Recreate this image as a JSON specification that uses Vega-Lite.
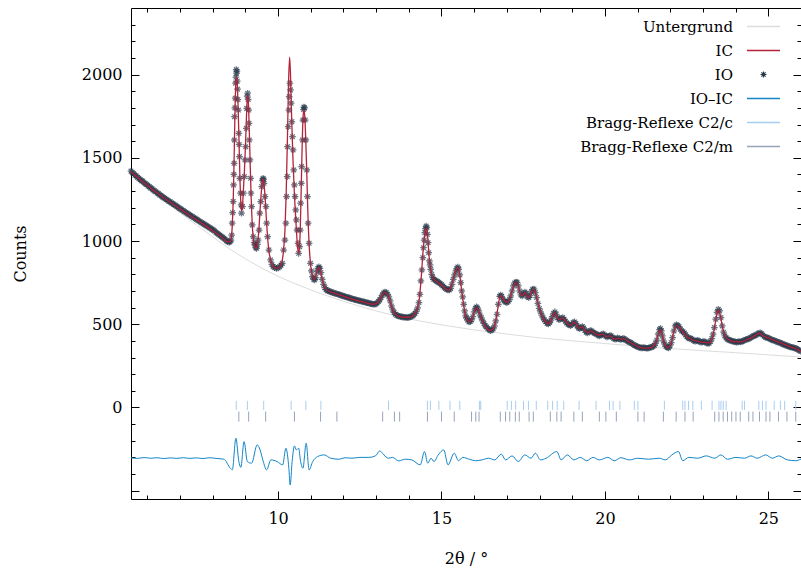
{
  "$schema": "https://vega.github.io/schema/vega-lite/v6.json",
  "width": 670,
  "height": 491,
  "autosize": {"type": "none"},
  "padding": {"left": 131, "top": 8, "right": 0, "bottom": 73},
  "config": {
    "font": "DejaVu Serif",
    "view": {"stroke": "#000000", "strokeWidth": 1},
    "axis": {"domain": false, "grid": false, "tickColor": "#000000", "labelFont": "DejaVu Serif", "titleFont": "DejaVu Serif", "labelFontSize": 16, "titleFontSize": 16, "labelColor": "#000000", "titleColor": "#000000", "titleFontWeight": "normal"}
  },
  "datasets": {
    "obs": [
      {"x":5.50,"o":1420},{"x":5.54,"o":1410},{"x":5.58,"o":1406},{"x":5.62,"o":1395},{"x":5.66,"o":1392},{"x":5.70,"o":1383},{"x":5.74,"o":1375},{"x":5.78,"o":1370},{"x":5.82,"o":1362},{"x":5.86,"o":1360},
      {"x":5.90,"o":1350},{"x":5.94,"o":1344},{"x":5.98,"o":1340},{"x":6.02,"o":1330},{"x":6.06,"o":1328},{"x":6.10,"o":1318},{"x":6.14,"o":1315},{"x":6.18,"o":1306},{"x":6.22,"o":1302},{"x":6.26,"o":1296},
      {"x":6.30,"o":1288},{"x":6.34,"o":1285},{"x":6.38,"o":1276},{"x":6.42,"o":1274},{"x":6.46,"o":1265},{"x":6.50,"o":1262},{"x":6.54,"o":1255},{"x":6.58,"o":1250},{"x":6.62,"o":1245},{"x":6.66,"o":1238},
      {"x":6.70,"o":1236},{"x":6.74,"o":1228},{"x":6.78,"o":1225},{"x":6.82,"o":1218},{"x":6.86,"o":1215},{"x":6.90,"o":1207},{"x":6.94,"o":1204},{"x":6.98,"o":1196},{"x":7.02,"o":1194},{"x":7.06,"o":1186},
      {"x":7.10,"o":1183},{"x":7.14,"o":1176},{"x":7.18,"o":1172},{"x":7.22,"o":1166},{"x":7.26,"o":1161},{"x":7.30,"o":1156},{"x":7.34,"o":1150},{"x":7.38,"o":1147},{"x":7.42,"o":1140},{"x":7.46,"o":1137},
      {"x":7.50,"o":1130},{"x":7.54,"o":1126},{"x":7.58,"o":1120},{"x":7.62,"o":1116},{"x":7.66,"o":1110},{"x":7.70,"o":1106},{"x":7.74,"o":1100},{"x":7.78,"o":1096},{"x":7.82,"o":1090},{"x":7.86,"o":1087},
      {"x":7.90,"o":1080},{"x":7.94,"o":1077},{"x":7.98,"o":1070},{"x":8.02,"o":1066},{"x":8.06,"o":1060},{"x":8.10,"o":1052},{"x":8.14,"o":1046},{"x":8.18,"o":1040},{"x":8.22,"o":1034},{"x":8.26,"o":1028},
      {"x":8.30,"o":1022},{"x":8.34,"o":1016},{"x":8.38,"o":1010},{"x":8.42,"o":1002},{"x":8.46,"o":996},{"x":8.50,"o":993},{"x":8.53,"o":995},{"x":8.56,"o":1005},{"x":8.58,"o":1035},{"x":8.596,"o":1107},
      {"x":8.61,"o":1170},{"x":8.627,"o":1237},{"x":8.637,"o":1337},{"x":8.647,"o":1400},{"x":8.657,"o":1467},{"x":8.662,"o":1607},{"x":8.668,"o":1747},{"x":8.678,"o":1800},{"x":8.688,"o":1858},{"x":8.698,"o":1948},
      {"x":8.71,"o":1985},{"x":8.72,"o":2030},{"x":8.729,"o":2008},{"x":8.74,"o":2020},{"x":8.75,"o":1960},{"x":8.76,"o":1912},{"x":8.77,"o":1850},{"x":8.785,"o":1787},{"x":8.80,"o":1647},{"x":8.81,"o":1580},
      {"x":8.82,"o":1507},{"x":8.83,"o":1377},{"x":8.85,"o":1287},{"x":8.87,"o":1217},{"x":8.88,"o":1167},{"x":8.91,"o":1207},{"x":8.94,"o":1287},{"x":8.97,"o":1387},{"x":8.99,"o":1487},{"x":9.01,"o":1567},
      {"x":9.03,"o":1677},{"x":9.04,"o":1797},{"x":9.055,"o":1870},{"x":9.07,"o":1888},{"x":9.085,"o":1850},{"x":9.10,"o":1787},{"x":9.11,"o":1707},{"x":9.12,"o":1607},{"x":9.14,"o":1487},{"x":9.16,"o":1377},
      {"x":9.17,"o":1287},{"x":9.19,"o":1207},{"x":9.21,"o":1097},{"x":9.24,"o":1026},{"x":9.27,"o":990},{"x":9.29,"o":976},{"x":9.32,"o":960},{"x":9.34,"o":956},{"x":9.37,"o":980},{"x":9.39,"o":1006},
      {"x":9.42,"o":1066},{"x":9.44,"o":1167},{"x":9.47,"o":1237},{"x":9.50,"o":1327},{"x":9.52,"o":1365},{"x":9.54,"o":1377},{"x":9.555,"o":1370},{"x":9.57,"o":1347},{"x":9.60,"o":1267},{"x":9.63,"o":1207},
      {"x":9.65,"o":1107},{"x":9.68,"o":1026},{"x":9.72,"o":946},{"x":9.77,"o":886},{"x":9.81,"o":860},{"x":9.85,"o":846},{"x":9.90,"o":840},{"x":9.95,"o":836},{"x":10.00,"o":838},{"x":10.05,"o":846},
      {"x":10.09,"o":855},{"x":10.13,"o":866},{"x":10.17,"o":946},{"x":10.21,"o":1006},{"x":10.24,"o":1107},{"x":10.26,"o":1267},{"x":10.28,"o":1387},{"x":10.29,"o":1567},{"x":10.31,"o":1687},{"x":10.33,"o":1787},
      {"x":10.34,"o":1867},{"x":10.36,"o":1948},{"x":10.38,"o":1908},{"x":10.40,"o":1828},{"x":10.42,"o":1717},{"x":10.44,"o":1627},{"x":10.46,"o":1547},{"x":10.48,"o":1427},{"x":10.50,"o":1337},{"x":10.52,"o":1267},
      {"x":10.54,"o":1187},{"x":10.56,"o":1127},{"x":10.58,"o":1066},{"x":10.61,"o":986},{"x":10.63,"o":926},{"x":10.66,"o":966},{"x":10.68,"o":1066},{"x":10.69,"o":1227},{"x":10.71,"o":1347},{"x":10.72,"o":1447},
      {"x":10.75,"o":1607},{"x":10.76,"o":1727},{"x":10.78,"o":1790},{"x":10.79,"o":1805},{"x":10.81,"o":1800},{"x":10.83,"o":1727},{"x":10.85,"o":1607},{"x":10.88,"o":1427},{"x":10.90,"o":1267},{"x":10.92,"o":1107},
      {"x":10.95,"o":986},{"x":10.99,"o":866},{"x":11.02,"o":820},{"x":11.05,"o":786},{"x":11.09,"o":770},{"x":11.12,"o":766},{"x":11.15,"o":780},{"x":11.19,"o":816},{"x":11.22,"o":836},{"x":11.25,"o":845},
      {"x":11.28,"o":836},{"x":11.31,"o":810},{"x":11.35,"o":770},{"x":11.39,"o":740},{"x":11.43,"o":720},{"x":11.47,"o":708},{"x":11.51,"o":702},{"x":11.55,"o":700},{"x":11.59,"o":696},{"x":11.63,"o":694},
      {"x":11.67,"o":690},{"x":11.71,"o":688},{"x":11.75,"o":685},{"x":11.79,"o":683},{"x":11.83,"o":680},{"x":11.87,"o":678},{"x":11.91,"o":675},{"x":11.95,"o":672},{"x":11.99,"o":670},{"x":12.03,"o":667},
      {"x":12.07,"o":665},{"x":12.11,"o":662},{"x":12.15,"o":660},{"x":12.19,"o":658},{"x":12.23,"o":655},{"x":12.27,"o":653},{"x":12.31,"o":650},{"x":12.35,"o":648},{"x":12.39,"o":646},{"x":12.43,"o":644},
      {"x":12.47,"o":642},{"x":12.51,"o":640},{"x":12.55,"o":638},{"x":12.59,"o":636},{"x":12.63,"o":634},{"x":12.67,"o":632},{"x":12.71,"o":630},{"x":12.75,"o":628},{"x":12.79,"o":626},{"x":12.83,"o":624},
      {"x":12.87,"o":622},{"x":12.91,"o":620},{"x":12.95,"o":620},{"x":12.99,"o":622},{"x":13.03,"o":628},{"x":13.07,"o":636},{"x":13.11,"o":646},{"x":13.15,"o":660},{"x":13.19,"o":675},{"x":13.23,"o":688},
      {"x":13.27,"o":694},{"x":13.31,"o":690},{"x":13.35,"o":680},{"x":13.39,"o":664},{"x":13.43,"o":640},{"x":13.47,"o":610},{"x":13.51,"o":586},{"x":13.55,"o":570},{"x":13.59,"o":560},{"x":13.63,"o":554},
      {"x":13.67,"o":550},{"x":13.71,"o":548},{"x":13.75,"o":546},{"x":13.79,"o":544},{"x":13.83,"o":543},{"x":13.87,"o":542},{"x":13.91,"o":541},{"x":13.95,"o":540},{"x":13.99,"o":541},{"x":14.03,"o":543},
      {"x":14.07,"o":546},{"x":14.11,"o":550},{"x":14.15,"o":556},{"x":14.19,"o":565},{"x":14.23,"o":578},{"x":14.27,"o":598},{"x":14.31,"o":630},{"x":14.34,"o":680},{"x":14.37,"o":760},{"x":14.40,"o":826},
      {"x":14.43,"o":900},{"x":14.45,"o":960},{"x":14.47,"o":1006},{"x":14.49,"o":1050},{"x":14.51,"o":1075},{"x":14.53,"o":1090},{"x":14.55,"o":1080},{"x":14.57,"o":1040},{"x":14.59,"o":990},{"x":14.61,"o":930},
      {"x":14.63,"o":880},{"x":14.65,"o":856},{"x":14.67,"o":830},{"x":14.70,"o":800},{"x":14.73,"o":780},{"x":14.76,"o":770},{"x":14.80,"o":766},{"x":14.84,"o":760},{"x":14.88,"o":756},{"x":14.92,"o":750},
      {"x":14.96,"o":745},{"x":15.00,"o":738},{"x":15.04,"o":730},{"x":15.08,"o":722},{"x":15.12,"o":715},{"x":15.16,"o":710},{"x":15.20,"o":706},{"x":15.24,"o":706},{"x":15.28,"o":715},{"x":15.32,"o":740},
      {"x":15.36,"o":770},{"x":15.40,"o":796},{"x":15.44,"o":820},{"x":15.47,"o":836},{"x":15.50,"o":844},{"x":15.53,"o":830},{"x":15.56,"o":796},{"x":15.59,"o":750},{"x":15.62,"o":700},{"x":15.65,"o":664},
      {"x":15.68,"o":620},{"x":15.71,"o":580},{"x":15.74,"o":550},{"x":15.77,"o":538},{"x":15.80,"o":525},{"x":15.84,"o":514},{"x":15.88,"o":516},{"x":15.92,"o":526},{"x":15.96,"o":545},{"x":16.00,"o":575},
      {"x":16.04,"o":596},{"x":16.07,"o":604},{"x":16.10,"o":598},{"x":16.14,"o":580},{"x":16.18,"o":555},{"x":16.22,"o":538},{"x":16.26,"o":520},{"x":16.30,"o":505},{"x":16.34,"o":490},{"x":16.38,"o":484},
      {"x":16.42,"o":474},{"x":16.46,"o":466},{"x":16.50,"o":462},{"x":16.54,"o":466},{"x":16.58,"o":472},{"x":16.62,"o":490},{"x":16.66,"o":520},{"x":16.70,"o":560},{"x":16.74,"o":620},{"x":16.78,"o":668},
      {"x":16.81,"o":676},{"x":16.84,"o":668},{"x":16.88,"o":650},{"x":16.92,"o":640},{"x":16.96,"o":634},{"x":17.00,"o":630},{"x":17.04,"o":636},{"x":17.08,"o":648},{"x":17.12,"o":670},{"x":17.16,"o":700},
      {"x":17.20,"o":730},{"x":17.24,"o":748},{"x":17.28,"o":754},{"x":17.31,"o":752},{"x":17.35,"o":730},{"x":17.39,"o":700},{"x":17.43,"o":676},{"x":17.47,"o":670},{"x":17.51,"o":684},{"x":17.55,"o":694},
      {"x":17.59,"o":686},{"x":17.63,"o":665},{"x":17.67,"o":660},{"x":17.71,"o":672},{"x":17.75,"o":695},{"x":17.79,"o":710},{"x":17.83,"o":712},{"x":17.87,"o":690},{"x":17.91,"o":660},{"x":17.95,"o":625},
      {"x":17.99,"o":595},{"x":18.03,"o":575},{"x":18.07,"o":555},{"x":18.11,"o":538},{"x":18.15,"o":526},{"x":18.19,"o":515},{"x":18.23,"o":505},{"x":18.27,"o":502},{"x":18.31,"o":510},{"x":18.35,"o":525},
      {"x":18.39,"o":545},{"x":18.43,"o":565},{"x":18.47,"o":574},{"x":18.51,"o":560},{"x":18.55,"o":540},{"x":18.59,"o":528},{"x":18.63,"o":530},{"x":18.67,"o":536},{"x":18.71,"o":540},{"x":18.75,"o":530},
      {"x":18.79,"o":518},{"x":18.83,"o":508},{"x":18.87,"o":500},{"x":18.91,"o":496},{"x":18.95,"o":492},{"x":18.99,"o":498},{"x":19.03,"o":510},{"x":19.07,"o":514},{"x":19.11,"o":505},{"x":19.15,"o":490},
      {"x":19.19,"o":478},{"x":19.23,"o":474},{"x":19.27,"o":480},{"x":19.31,"o":486},{"x":19.35,"o":478},{"x":19.39,"o":462},{"x":19.43,"o":452},{"x":19.47,"o":448},{"x":19.51,"o":456},{"x":19.55,"o":462},
      {"x":19.59,"o":460},{"x":19.63,"o":452},{"x":19.67,"o":448},{"x":19.71,"o":444},{"x":19.75,"o":440},{"x":19.79,"o":434},{"x":19.83,"o":430},{"x":19.87,"o":434},{"x":19.91,"o":440},{"x":19.95,"o":442},
      {"x":19.99,"o":436},{"x":20.03,"o":428},{"x":20.07,"o":424},{"x":20.11,"o":428},{"x":20.15,"o":432},{"x":20.19,"o":430},{"x":20.23,"o":422},{"x":20.27,"o":414},{"x":20.31,"o":410},{"x":20.35,"o":412},
      {"x":20.39,"o":418},{"x":20.43,"o":414},{"x":20.47,"o":408},{"x":20.51,"o":410},{"x":20.55,"o":415},{"x":20.59,"o":412},{"x":20.63,"o":406},{"x":20.67,"o":402},{"x":20.71,"o":396},{"x":20.75,"o":392},
      {"x":20.79,"o":390},{"x":20.83,"o":384},{"x":20.87,"o":378},{"x":20.91,"o":372},{"x":20.95,"o":370},{"x":20.99,"o":366},{"x":21.03,"o":362},{"x":21.07,"o":360},{"x":21.11,"o":358},{"x":21.15,"o":358},
      {"x":21.19,"o":360},{"x":21.23,"o":358},{"x":21.27,"o":356},{"x":21.31,"o":356},{"x":21.35,"o":358},{"x":21.39,"o":362},{"x":21.43,"o":362},{"x":21.47,"o":366},{"x":21.51,"o":372},{"x":21.55,"o":385},
      {"x":21.59,"o":405},{"x":21.63,"o":440},{"x":21.67,"o":468},{"x":21.70,"o":474},{"x":21.73,"o":460},{"x":21.76,"o":430},{"x":21.79,"o":400},{"x":21.83,"o":380},{"x":21.87,"o":366},{"x":21.91,"o":360},
      {"x":21.95,"o":358},{"x":21.99,"o":370},{"x":22.03,"o":390},{"x":22.07,"o":420},{"x":22.11,"o":460},{"x":22.15,"o":490},{"x":22.19,"o":496},{"x":22.23,"o":494},{"x":22.27,"o":485},{"x":22.31,"o":470},
      {"x":22.35,"o":460},{"x":22.39,"o":455},{"x":22.43,"o":448},{"x":22.47,"o":436},{"x":22.51,"o":425},{"x":22.55,"o":418},{"x":22.59,"o":414},{"x":22.63,"o":416},{"x":22.67,"o":410},{"x":22.71,"o":402},
      {"x":22.75,"o":398},{"x":22.79,"o":400},{"x":22.83,"o":404},{"x":22.87,"o":400},{"x":22.91,"o":394},{"x":22.95,"o":392},{"x":22.99,"o":394},{"x":23.03,"o":396},{"x":23.07,"o":394},{"x":23.11,"o":388},
      {"x":23.15,"o":384},{"x":23.19,"o":386},{"x":23.23,"o":396},{"x":23.27,"o":414},{"x":23.31,"o":440},{"x":23.35,"o":480},{"x":23.39,"o":530},{"x":23.43,"o":572},{"x":23.47,"o":590},{"x":23.51,"o":580},
      {"x":23.55,"o":540},{"x":23.59,"o":490},{"x":23.63,"o":452},{"x":23.67,"o":430},{"x":23.71,"o":418},{"x":23.75,"o":410},{"x":23.79,"o":406},{"x":23.83,"o":404},{"x":23.87,"o":400},{"x":23.91,"o":398},
      {"x":23.95,"o":396},{"x":23.99,"o":394},{"x":24.03,"o":392},{"x":24.07,"o":394},{"x":24.11,"o":396},{"x":24.15,"o":394},{"x":24.19,"o":396},{"x":24.23,"o":400},{"x":24.27,"o":404},{"x":24.31,"o":408},
      {"x":24.35,"o":410},{"x":24.39,"o":412},{"x":24.43,"o":416},{"x":24.47,"o":420},{"x":24.51,"o":426},{"x":24.55,"o":430},{"x":24.59,"o":432},{"x":24.63,"o":436},{"x":24.67,"o":442},{"x":24.71,"o":446},
      {"x":24.75,"o":448},{"x":24.79,"o":444},{"x":24.83,"o":436},{"x":24.87,"o":428},{"x":24.91,"o":422},{"x":24.95,"o":420},{"x":24.99,"o":418},{"x":25.03,"o":414},{"x":25.07,"o":410},{"x":25.11,"o":406},
      {"x":25.15,"o":404},{"x":25.19,"o":402},{"x":25.23,"o":398},{"x":25.27,"o":394},{"x":25.31,"o":392},{"x":25.35,"o":390},{"x":25.39,"o":386},{"x":25.43,"o":382},{"x":25.47,"o":378},{"x":25.51,"o":376},
      {"x":25.55,"o":372},{"x":25.59,"o":370},{"x":25.63,"o":366},{"x":25.67,"o":364},{"x":25.71,"o":362},{"x":25.75,"o":360},{"x":25.79,"o":358},{"x":25.83,"o":356},{"x":25.87,"o":352},{"x":25.91,"o":348},
      {"x":25.95,"o":342},{"x":25.99,"o":338}
    ],
    "calc": [
      {"x":5.5,"c":1416},{"x":6.0,"c":1333},{"x":6.5,"c":1260},{"x":7.0,"c":1193},{"x":7.5,"c":1128},{"x":8.0,"c":1062},{"x":8.3,"c":1020},{"x":8.45,"c":996},{"x":8.53,"c":996},{"x":8.57,"c":1015},
      {"x":8.6,"c":1100},{"x":8.63,"c":1260},{"x":8.66,"c":1550},{"x":8.69,"c":1850},{"x":8.71,"c":1960},{"x":8.73,"c":1985},{"x":8.75,"c":1950},{"x":8.77,"c":1850},{"x":8.8,"c":1640},{"x":8.83,"c":1400},
      {"x":8.86,"c":1230},{"x":8.88,"c":1180},{"x":8.9,"c":1190},{"x":8.93,"c":1270},{"x":8.97,"c":1420},{"x":9.0,"c":1560},{"x":9.03,"c":1730},{"x":9.06,"c":1860},{"x":9.075,"c":1875},{"x":9.09,"c":1840},
      {"x":9.12,"c":1660},{"x":9.15,"c":1440},{"x":9.18,"c":1240},{"x":9.21,"c":1100},{"x":9.25,"c":1000},{"x":9.29,"c":965},{"x":9.33,"c":955},{"x":9.37,"c":985},{"x":9.41,"c":1060},{"x":9.45,"c":1190},
      {"x":9.49,"c":1300},{"x":9.52,"c":1360},{"x":9.545,"c":1372},{"x":9.57,"c":1340},{"x":9.6,"c":1270},{"x":9.64,"c":1140},{"x":9.68,"c":1020},{"x":9.72,"c":940},{"x":9.78,"c":880},{"x":9.85,"c":848},
      {"x":9.95,"c":836},{"x":10.05,"c":845},{"x":10.12,"c":875},{"x":10.17,"c":950},{"x":10.21,"c":1060},{"x":10.25,"c":1300},{"x":10.29,"c":1650},{"x":10.32,"c":1950},{"x":10.355,"c":2105},{"x":10.38,"c":2000},
      {"x":10.41,"c":1780},{"x":10.45,"c":1520},{"x":10.5,"c":1280},{"x":10.55,"c":1100},{"x":10.59,"c":980},{"x":10.625,"c":925},{"x":10.65,"c":950},{"x":10.68,"c":1080},{"x":10.71,"c":1330},{"x":10.74,"c":1600},
      {"x":10.77,"c":1760},{"x":10.795,"c":1785},{"x":10.82,"c":1740},{"x":10.85,"c":1590},{"x":10.88,"c":1400},{"x":10.91,"c":1180},{"x":10.95,"c":980},{"x":11.0,"c":850},{"x":11.05,"c":790},{"x":11.1,"c":770},
      {"x":11.15,"c":785},{"x":11.2,"c":825},{"x":11.25,"c":840},{"x":11.3,"c":815},{"x":11.35,"c":770},{"x":11.42,"c":725},{"x":11.5,"c":705},{"x":11.7,"c":688},{"x":12.0,"c":668},{"x":12.3,"c":650},
      {"x":12.6,"c":634},{"x":12.9,"c":620},{"x":13.0,"c":624},{"x":13.1,"c":645},{"x":13.2,"c":680},{"x":13.27,"c":690},{"x":13.35,"c":678},{"x":13.45,"c":620},{"x":13.55,"c":570},{"x":13.65,"c":550},
      {"x":13.85,"c":542},{"x":14.05,"c":543},{"x":14.15,"c":554},{"x":14.25,"c":590},{"x":14.32,"c":650},{"x":14.38,"c":780},{"x":14.44,"c":950},{"x":14.5,"c":1060},{"x":14.535,"c":1078},{"x":14.57,"c":1040},
      {"x":14.62,"c":910},{"x":14.67,"c":826},{"x":14.75,"c":775},{"x":14.85,"c":758},{"x":15.0,"c":735},{"x":15.2,"c":705},{"x":15.25,"c":708},{"x":15.32,"c":742},{"x":15.4,"c":800},{"x":15.47,"c":836},
      {"x":15.5,"c":840},{"x":15.55,"c":810},{"x":15.6,"c":730},{"x":15.66,"c":640},{"x":15.72,"c":565},{"x":15.8,"c":522},{"x":15.87,"c":515},{"x":15.95,"c":540},{"x":16.03,"c":590},{"x":16.08,"c":600},
      {"x":16.14,"c":580},{"x":16.22,"c":535},{"x":16.32,"c":495},{"x":16.45,"c":465},{"x":16.52,"c":463},{"x":16.6,"c":480},{"x":16.68,"c":540},{"x":16.75,"c":630},{"x":16.8,"c":672},{"x":16.85,"c":665},
      {"x":16.95,"c":635},{"x":17.02,"c":632},{"x":17.1,"c":660},{"x":17.18,"c":715},{"x":17.25,"c":748},{"x":17.29,"c":752},{"x":17.35,"c":728},{"x":17.42,"c":680},{"x":17.48,"c":672},{"x":17.55,"c":690},
      {"x":17.62,"c":668},{"x":17.68,"c":662},{"x":17.76,"c":698},{"x":17.82,"c":708},{"x":17.88,"c":685},{"x":17.96,"c":620},{"x":18.05,"c":565},{"x":18.15,"c":525},{"x":18.25,"c":504},{"x":18.32,"c":512},
      {"x":18.4,"c":550},{"x":18.46,"c":570},{"x":18.53,"c":548},{"x":18.6,"c":528},{"x":18.7,"c":538},{"x":18.78,"c":522},{"x":18.88,"c":500},{"x":18.96,"c":494},{"x":19.05,"c":512},{"x":19.12,"c":502},
      {"x":19.2,"c":476},{"x":19.3,"c":484},{"x":19.4,"c":460},{"x":19.48,"c":450},{"x":19.56,"c":460},{"x":19.66,"c":450},{"x":19.8,"c":434},{"x":19.93,"c":440},{"x":20.05,"c":426},{"x":20.15,"c":430},
      {"x":20.3,"c":410},{"x":20.4,"c":416},{"x":20.5,"c":410},{"x":20.57,"c":413},{"x":20.7,"c":398},{"x":20.85,"c":382},{"x":21.0,"c":366},{"x":21.15,"c":358},{"x":21.3,"c":356},{"x":21.45,"c":364},
      {"x":21.55,"c":385},{"x":21.63,"c":438},{"x":21.7,"c":468},{"x":21.76,"c":428},{"x":21.83,"c":380},{"x":21.93,"c":360},{"x":22.03,"c":388},{"x":22.11,"c":455},{"x":22.19,"c":492},{"x":22.27,"c":482},
      {"x":22.37,"c":458},{"x":22.5,"c":426},{"x":22.6,"c":415},{"x":22.7,"c":404},{"x":22.8,"c":400},{"x":22.95,"c":393},{"x":23.1,"c":390},{"x":23.2,"c":388},{"x":23.28,"c":415},{"x":23.35,"c":475},
      {"x":23.43,"c":565},{"x":23.48,"c":584},{"x":23.53,"c":555},{"x":23.6,"c":480},{"x":23.68,"c":428},{"x":23.8,"c":406},{"x":24.0,"c":394},{"x":24.2,"c":396},{"x":24.4,"c":412},{"x":24.6,"c":432},
      {"x":24.73,"c":446},{"x":24.85,"c":430},{"x":25.0,"c":418},{"x":25.2,"c":402},{"x":25.4,"c":386},{"x":25.6,"c":370},{"x":25.8,"c":357},{"x":26.0,"c":336}
    ],
    "bg": [
      {"x": 5.5, "y": 1425}, {"x": 6, "y": 1335}, {"x": 6.5, "y": 1250}, {"x": 7, "y": 1170},
      {"x": 7.5, "y": 1097}, {"x": 8, "y": 1025}, {"x": 8.5, "y": 955}, {"x": 9, "y": 893},
      {"x": 9.5, "y": 837}, {"x": 10, "y": 788}, {"x": 10.5, "y": 745}, {"x": 11, "y": 706},
      {"x": 11.5, "y": 671}, {"x": 12, "y": 638}, {"x": 12.5, "y": 608}, {"x": 13, "y": 580},
      {"x": 13.5, "y": 555}, {"x": 14, "y": 532}, {"x": 15, "y": 496}, {"x": 16, "y": 466},
      {"x": 17, "y": 441}, {"x": 18, "y": 418}, {"x": 19, "y": 400}, {"x": 20, "y": 384},
      {"x": 21, "y": 368}, {"x": 22, "y": 354}, {"x": 23, "y": 341}, {"x": 24, "y": 329},
      {"x": 25, "y": 316}, {"x": 26, "y": 303}
    ],
    "diff": [
      {"x":5.5,"d":-303},{"x":5.7,"d":-306},{"x":5.9,"d":-301},{"x":6.1,"d":-305},{"x":6.3,"d":-302},{"x":6.5,"d":-307},{"x":6.7,"d":-303},{"x":6.9,"d":-306},{"x":7.1,"d":-302},{"x":7.3,"d":-306},
      {"x":7.5,"d":-303},{"x":7.7,"d":-307},{"x":7.9,"d":-302},{"x":8.1,"d":-306},{"x":8.34,"d":-311},{"x":8.54,"d":-365},{"x":8.6,"d":-375},{"x":8.71,"d":-185},{"x":8.8,"d":-325},{"x":8.86,"d":-360},
      {"x":8.96,"d":-205},{"x":9.06,"d":-325},{"x":9.19,"d":-335},{"x":9.36,"d":-225},{"x":9.45,"d":-255},{"x":9.54,"d":-320},{"x":9.65,"d":-375},{"x":9.78,"d":-315},{"x":9.97,"d":-325},{"x":10.14,"d":-345},
      {"x":10.24,"d":-245},{"x":10.33,"d":-365},{"x":10.37,"d":-466},{"x":10.43,"d":-325},{"x":10.5,"d":-231},{"x":10.56,"d":-255},{"x":10.63,"d":-245},{"x":10.69,"d":-325},{"x":10.76,"d":-365},{"x":10.86,"d":-215},
      {"x":10.95,"d":-375},{"x":11.06,"d":-325},{"x":11.21,"d":-295},{"x":11.41,"d":-285},{"x":11.61,"d":-305},{"x":11.87,"d":-311},{"x":12.05,"d":-302},{"x":12.26,"d":-305},{"x":12.5,"d":-300},{"x":12.78,"d":-300},
      {"x":12.98,"d":-291},{"x":13.11,"d":-261},{"x":13.24,"d":-285},{"x":13.37,"d":-305},{"x":13.5,"d":-300},{"x":13.69,"d":-321},{"x":13.89,"d":-311},{"x":14.09,"d":-315},{"x":14.35,"d":-345},{"x":14.48,"d":-265},
      {"x":14.58,"d":-335},{"x":14.68,"d":-305},{"x":14.77,"d":-325},{"x":14.9,"d":-285},{"x":15.07,"d":-255},{"x":15.2,"d":-345},{"x":15.39,"d":-275},{"x":15.52,"d":-320},{"x":15.65,"d":-300},{"x":15.85,"d":-311},
      {"x":16.04,"d":-320},{"x":16.24,"d":-315},{"x":16.44,"d":-305},{"x":16.63,"d":-315},{"x":16.83,"d":-280},{"x":16.96,"d":-315},{"x":17.16,"d":-291},{"x":17.35,"d":-325},{"x":17.55,"d":-285},{"x":17.74,"d":-305},
      {"x":17.87,"d":-275},{"x":18.03,"d":-315},{"x":18.2,"d":-305},{"x":18.53,"d":-265},{"x":18.66,"d":-315},{"x":18.85,"d":-285},{"x":19.05,"d":-315},{"x":19.25,"d":-300},{"x":19.44,"d":-320},{"x":19.64,"d":-300},
      {"x":19.83,"d":-315},{"x":20.09,"d":-300},{"x":20.29,"d":-320},{"x":20.49,"d":-302},{"x":20.75,"d":-315},{"x":21.01,"d":-305},{"x":21.33,"d":-311},{"x":21.66,"d":-305},{"x":21.85,"d":-315},{"x":22.05,"d":-285},
      {"x":22.25,"d":-265},{"x":22.38,"d":-320},{"x":22.57,"d":-300},{"x":22.84,"d":-305},{"x":23.1,"d":-291},{"x":23.36,"d":-305},{"x":23.55,"d":-285},{"x":23.75,"d":-311},{"x":24.01,"d":-300},{"x":24.27,"d":-305},
      {"x":24.47,"d":-291},{"x":24.66,"d":-305},{"x":24.92,"d":-285},{"x":25.12,"d":-305},{"x":25.32,"d":-291},{"x":25.58,"d":-315},{"x":25.84,"d":-320},{"x":26.0,"d":-310}
    ],
    "c2c": [
      {"x":8.72},{"x":9.06},{"x":9.56},{"x":10.40},{"x":10.85},{"x":11.31},{"x":13.38},{"x":14.57},{"x":14.66},{"x":14.92},
      {"x":15.26},{"x":15.56},{"x":16.16},{"x":16.2},{"x":17.01},{"x":17.14},{"x":17.27},{"x":17.51},{"x":17.66},{"x":17.9},
      {"x":18.25},{"x":18.4},{"x":18.54},{"x":18.74},{"x":19.21},{"x":19.73},{"x":20.14},{"x":20.25},{"x":20.46},{"x":20.9},
      {"x":21.01},{"x":21.82},{"x":22.38},{"x":22.45},{"x":22.56},{"x":22.69},{"x":22.95},{"x":23.28},{"x":23.49},{"x":23.55},
      {"x":23.62},{"x":23.71},{"x":24.2},{"x":24.27},{"x":24.71},{"x":24.82},{"x":24.93},{"x":25.18},{"x":25.37},{"x":25.5},{"x":25.84}
    ],
    "c2m": [
      {"x":8.8},{"x":9.1},{"x":9.62},{"x":10.5},{"x":11.3},{"x":11.8},{"x":13.2},{"x":13.56},{"x":13.72},{"x":14.57},
      {"x":15.0},{"x":15.39},{"x":15.92},{"x":16.05},{"x":16.15},{"x":16.8},{"x":16.96},{"x":17.09},{"x":17.26},{"x":17.38},
      {"x":17.68},{"x":17.81},{"x":18.33},{"x":18.53},{"x":18.66},{"x":19.05},{"x":19.31},{"x":19.83},{"x":20.03},{"x":20.35},
      {"x":21.01},{"x":21.2},{"x":21.79},{"x":22.18},{"x":22.45},{"x":22.7},{"x":23.36},{"x":23.49},{"x":23.62},{"x":23.75},
      {"x":23.88},{"x":24.01},{"x":24.14},{"x":24.4},{"x":24.53},{"x":24.73},{"x":24.93},{"x":25.05},{"x":25.31},{"x":25.57},{"x":25.84}
    ]
  },
  "resolve": {"axis": {"x": "independent", "y": "independent"}},
  "layer": [
    {
      "data": {"name": "bg"},
      "mark": {"type": "line", "strokeWidth": 1},
      "encoding": {
        "x": {"field": "x", "type": "quantitative", "scale": {"domain": [5.5, 26], "nice": false, "zero": false},
          "title": "2θ / °",
          "axis": {"orient": "bottom", "values": [6,7,8,9,10,11,12,13,14,15,16,17,18,19,20,21,22,23,24,25,26],
            "tickSize": {"condition": {"test": "datum.value % 5 === 0", "value": -8}, "value": -4},
            "labelExpr": "datum.value % 5 === 0 ? datum.label : ''", "labelPadding": 19, "titlePadding": 24}},
        "y": {"field": "y", "type": "quantitative", "scale": {"domain": [-550, 2400], "nice": false, "zero": false},
          "title": "Counts",
          "axis": {"orient": "left", "format": "d", "values": [-500,-400,-300,-200,-100,0,100,200,300,400,500,600,700,800,900,1000,1100,1200,1300,1400,1500,1600,1700,1800,1900,2000,2100,2200,2300],
            "tickSize": {"condition": {"test": "datum.value % 500 === 0", "value": -8}, "value": -4},
            "labelExpr": "datum.value % 500 === 0 && datum.value >= 0 ? datum.label : ''", "labelPadding": 17, "titlePadding": 53}},
        "color": {"datum": "Untergrund", "type": "nominal",
          "scale": {"domain": ["Untergrund", "IC", "IO", "IO–IC", "Bragg-Reflexe C2/c", "Bragg-Reflexe C2/m"],
            "range": ["#dcdcdc", "#b3243a", "#28394b", "#1385c8", "#a9cdef", "#97a3b8"]},
          "legend": {"orient": "none", "legendX": 625, "legendY": 11, "title": null, "padding": 0,
            "symbolType": "M-2.2,0L2.2,0", "symbolSize": 225, "symbolStrokeWidth": 1.5,
            "labelAlign": "right", "labelOffset": -38, "labelFontSize": 15, "labelFont": "DejaVu Serif", "labelColor": "#000000",
            "rowPadding": 8,
            "encode": {"symbols": {"update": {
              "shape": {"signal": "datum.value === 'IO' ? 'M-0.4,0L0.4,0M0,-0.4L0,0.4M-0.28,-0.28L0.28,0.28M-0.28,0.28L0.28,-0.28' : 'M-2.2,0L2.2,0'"},
              "size": {"value": 225},
              "strokeWidth": {"signal": "datum.value === 'IO' ? 1.2 : 1.5"}
            }}}}}
      }
    },
    {
      "data": {"name": "bg"},
      "mark": {"type": "line", "strokeWidth": 0},
      "encoding": {
        "x": {"field": "x", "type": "quantitative", "axis": {"orient": "top", "values": [6,7,8,9,10,11,12,13,14,15,16,17,18,19,20,21,22,23,24,25,26],
            "tickSize": {"condition": {"test": "datum.value % 5 === 0", "value": -8}, "value": -4}, "labels": false, "title": null}},
        "y": {"field": "y", "type": "quantitative", "axis": {"orient": "right", "values": [-500,-400,-300,-200,-100,0,100,200,300,400,500,600,700,800,900,1000,1100,1200,1300,1400,1500,1600,1700,1800,1900,2000,2100,2200,2300],
            "tickSize": {"condition": {"test": "datum.value % 500 === 0", "value": -8}, "value": -4}, "labels": false, "title": null}}
      }
    },
    {
      "data": {"name": "obs"},
      "mark": {"type": "point", "filled": false, "size": 44, "strokeWidth": 1.25,
        "shape": "M-1,0L1,0M0,-1L0,1M-0.7,-0.7L0.7,0.7M-0.7,0.7L0.7,-0.7"},
      "encoding": {
        "x": {"field": "x", "type": "quantitative", "axis": null},
        "y": {"field": "o", "type": "quantitative", "axis": null},
        "color": {"datum": "IO", "type": "nominal"}
      }
    },
    {
      "data": {"name": "calc"},
      "mark": {"type": "line", "strokeWidth": 1.3, "interpolate": "monotone"},
      "encoding": {
        "x": {"field": "x", "type": "quantitative", "axis": null},
        "y": {"field": "c", "type": "quantitative", "axis": null},
        "color": {"datum": "IC", "type": "nominal"}
      }
    },
    {
      "data": {"name": "diff"},
      "mark": {"type": "line", "strokeWidth": 1, "interpolate": "monotone"},
      "encoding": {
        "x": {"field": "x", "type": "quantitative", "axis": null},
        "y": {"field": "d", "type": "quantitative", "axis": null},
        "color": {"datum": "IO–IC", "type": "nominal"}
      }
    },
    {
      "data": {"name": "c2c"},
      "mark": {"type": "rule", "strokeWidth": 1},
      "encoding": {
        "x": {"field": "x", "type": "quantitative", "axis": null},
        "y": {"datum": 40, "type": "quantitative", "axis": null},
        "y2": {"datum": -15},
        "color": {"datum": "Bragg-Reflexe C2/c", "type": "nominal"}
      }
    },
    {
      "data": {"name": "c2m"},
      "mark": {"type": "rule", "strokeWidth": 1},
      "encoding": {
        "x": {"field": "x", "type": "quantitative", "axis": null},
        "y": {"datum": -25, "type": "quantitative", "axis": null},
        "y2": {"datum": -85},
        "color": {"datum": "Bragg-Reflexe C2/m", "type": "nominal"}
      }
    }
  ]
}
